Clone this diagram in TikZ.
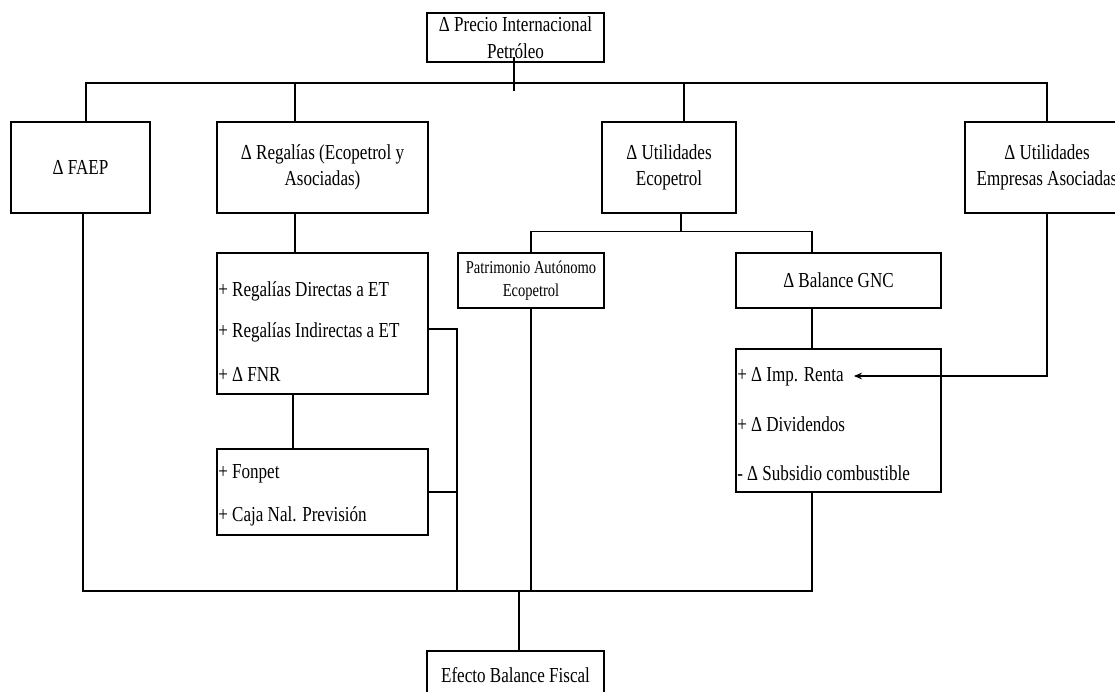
\documentclass[tikz,border=0pt]{standalone}
\usepackage{fontspec}
\setmainfont{Liberation Serif}[FakeStretch=0.8]
\usepackage{tikz}
\usetikzlibrary{calc}
\usetikzlibrary{arrows.meta}
\tikzstyle{boxnode}=[black, draw=black, line width=2pt, shape=rectangle, fill=white, inner sep=2pt, align=center, font=\fontsize{16}{20}\selectfont]
\tikzstyle{smallbox}=[boxnode, font=\fontsize{13.6}{17}\selectfont]
\tikzstyle{itemtext}=[shape=rectangle, inner sep=0pt, anchor=base west, text height=11pt, text depth=3.5pt, font=\fontsize{16}{20}\selectfont]
\tikzstyle{wire}=[line width=0.9pt, color=black]
\tikzstyle{feed}=[-{Stealth[length=6pt, width=5pt]}, line width=0.9pt, color=black]

\begin{document}
\begin{tikzpicture}[x=0.75pt, y=-0.75pt]
\useasboundingbox (0,0) rectangle (1115,692);

\node [boxnode, minimum width=132.75pt, minimum height=36.75pt] (precio) at (515.5,37.4) {Δ Precio Internacional\\ Petróleo};
\node [boxnode, minimum width=104.25pt, minimum height=68.25pt] (faep) at (80.5,167.5) {Δ FAEP};
\node [boxnode, minimum width=158.25pt, minimum height=68.25pt] (regalias) at (322.5,167.5) {Δ Regalías (Ecopetrol y\\ Asociadas)};
\node [boxnode, minimum width=100.5pt, minimum height=68.25pt] (utileco) at (669,167.5) {Δ Utilidades\\ Ecopetrol};
\node [boxnode, minimum width=123pt, minimum height=68.25pt] (utilemp) at (1047,167.5) {Δ Utilidades\\ Empresas Asociadas};
\node [boxnode, minimum width=158.25pt, minimum height=105.75pt] (regitems) at (322.5,323.5) {};
\node [boxnode, minimum width=158.25pt, minimum height=64.5pt] (fonpet) at (322.5,492) {};
\node [smallbox, minimum width=109.5pt, minimum height=41.25pt] (patrimonio) at (531,280.5) {Patrimonio Autónomo\\ Ecopetrol};
\node [boxnode, minimum width=153.75pt, minimum height=41.25pt] (gnc) at (838.5,280.5) {Δ Balance GNC};
\node [boxnode, minimum width=153.75pt, minimum height=107.25pt] (gncitems) at (838.5,420.5) {};
\node [boxnode, minimum width=132.75pt, minimum height=36pt] (efecto) at (515.5,675) {Efecto Balance Fiscal};

\node [itemtext] (directas) at (218,296) {+ Regalías Directas a ET};
\node [itemtext] (indirectas) at (218,337) {+ Regalías Indirectas a ET};
\node [itemtext] (fnr) at (218,381) {+ Δ FNR};
\node [itemtext] (fonpetitem) at (218,478) {+ Fonpet};
\node [itemtext] (caja) at (218,521) {+ Caja Nal. Previsión};
\node [itemtext] (imprenta) at (737,381) {+ Δ Imp. Renta};
\node [itemtext] (dividendos) at (737,431) {+ Δ Dividendos};
\node [itemtext] (subsidio) at (737,480) {- Δ Subsidio combustible};

\coordinate (topbus) at (515,83);
\coordinate (botbus) at (519,591);

\draw [wire] ($(precio.south)+(-1.5,-6)$) -- ($(topbus)+(-1,8)$);
\draw [wire] ($(faep.north)+(5.5,0)$) |- (topbus) -| (utilemp.north);
\draw [wire] ($(regalias.north)+(-27.5,0)$) -- ++(0,-39);
\draw [wire] ($(utileco.north)+(15,0)$) -- ++(0,-39);
\draw [wire] ($(regalias.south)+(-27.5,0)$) -- ($(regitems.north)+(-27.5,0)$);
\draw [wire] ($(regitems.south)+(-29.5,0)$) -- ($(fonpet.north)+(-29.5,0)$);
\draw [wire] ($(regitems.east)+(0,5.5)$) -| ($(botbus)+(-62,0)$);
\draw [wire] (fonpet.east) -- ++(29,0);
\draw [wire] ($(utileco.south)+(12,0)$) -- ++(0,17);
\draw [wire] (patrimonio.north) |- ($(utileco.south)+(12,17)$) -| ($(gnc.north)+(-26.5,0)$);
\draw [wire] (patrimonio.south) -- (patrimonio.south |- botbus);
\draw [wire] ($(gnc.south)+(-26.5,0)$) -- ($(gncitems.north)+(-26.5,0)$);
\draw [wire] ($(faep.south)+(2.5,0)$) |- (botbus) -| ($(gncitems.south)+(-26.5,0)$);
\draw [wire] (botbus) -- (botbus |- efecto.north);
\draw [feed] (utilemp.south) |- ($(imprenta.east)+(10,0)$);
\end{tikzpicture}
\end{document}
